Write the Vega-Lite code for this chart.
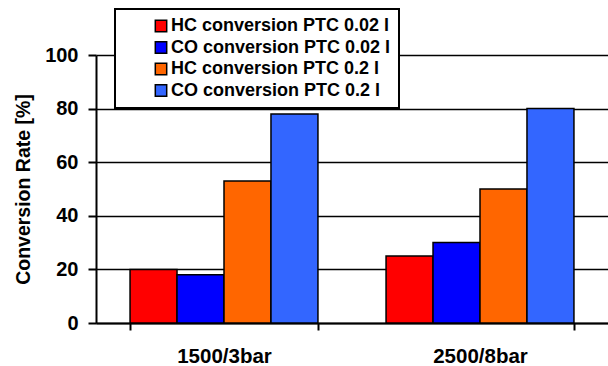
{
  "$schema": "https://vega.github.io/schema/vega-lite/v6.json",
  "width": 512,
  "height": 268,
  "autosize": {"type": "none"},
  "padding": {"left": 96, "top": 55, "right": 0, "bottom": 43},
  "background": "white",
  "config": {
    "font": "Liberation Sans",
    "view": {"stroke": null}
  },
  "data": {
    "values": [
      {"condition": "1500/3bar", "series": "HC conversion PTC 0.02 l", "value": 20},
      {"condition": "1500/3bar", "series": "CO conversion PTC 0.02 l", "value": 18},
      {"condition": "1500/3bar", "series": "HC conversion PTC 0.2 l", "value": 53},
      {"condition": "1500/3bar", "series": "CO conversion PTC 0.2 l", "value": 78},
      {"condition": "2500/8bar", "series": "HC conversion PTC 0.02 l", "value": 25},
      {"condition": "2500/8bar", "series": "CO conversion PTC 0.02 l", "value": 30},
      {"condition": "2500/8bar", "series": "HC conversion PTC 0.2 l", "value": 50},
      {"condition": "2500/8bar", "series": "CO conversion PTC 0.2 l", "value": 80}
    ]
  },
  "mark": {"type": "bar", "stroke": "black", "strokeWidth": 1.5},
  "encoding": {
    "x": {
      "field": "condition", "type": "nominal",
      "scale": {"paddingInner": 0.266, "paddingOuter": 0.133},
      "axis": {
        "title": null, "labelAngle": 0, "labelFont": "Liberation Sans", "labelFontSize": 20.5,
        "labelFontWeight": "bold", "labelColor": "black", "labelPadding": 16,
        "domainColor": "black", "domainWidth": 2, "tickColor": "black", "tickWidth": 2,
        "tickSize": 7, "tickBand": "extent", "grid": false
      }
    },
    "xOffset": {
      "field": "series", "type": "nominal",
      "sort": ["HC conversion PTC 0.02 l", "CO conversion PTC 0.02 l", "HC conversion PTC 0.2 l", "CO conversion PTC 0.2 l"],
      "scale": {"paddingInner": 0, "paddingOuter": 0}
    },
    "y": {
      "field": "value", "type": "quantitative",
      "scale": {"domain": [0, 100], "nice": false},
      "axis": {
        "title": "Conversion Rate [%]", "titleFont": "Liberation Sans", "titleFontSize": 19.5,
        "titleFontWeight": "bold", "titleColor": "black", "titlePadding": 11,
        "values": [0, 20, 40, 60, 80, 100],
        "labelFont": "Liberation Sans", "labelFontSize": 20, "labelFontWeight": "bold",
        "labelColor": "black", "labelPadding": 10,
        "domainColor": "black", "domainWidth": 2, "tickColor": "black", "tickWidth": 2,
        "tickSize": 8, "grid": true, "gridColor": "black", "gridWidth": 1.5, "gridOpacity": 1
      }
    },
    "color": {
      "field": "series", "type": "nominal",
      "sort": ["HC conversion PTC 0.02 l", "CO conversion PTC 0.02 l", "HC conversion PTC 0.2 l", "CO conversion PTC 0.2 l"],
      "scale": {
        "domain": ["HC conversion PTC 0.02 l", "CO conversion PTC 0.02 l", "HC conversion PTC 0.2 l", "CO conversion PTC 0.2 l"],
        "range": ["#FF0000", "#0000FF", "#FF6600", "#3366FF"]
      },
      "legend": {
        "title": null, "orient": "none", "legendX": 19, "legendY": -46,
        "fillColor": "white", "strokeColor": "black",
        "padding": 8, "symbolType": "square", "symbolSize": 130,
        "symbolStrokeColor": "black", "symbolStrokeWidth": 1.5, "symbolOffset": 29,
        "labelFont": "Liberation Sans", "labelFontSize": 18, "labelFontWeight": "bold",
        "labelColor": "black", "labelOffset": 1, "rowPadding": 3.5, "labelLimit": 600,
        "encode": {"legend": {"update": {"strokeWidth": {"value": 2}}}}
      }
    }
  }
}
